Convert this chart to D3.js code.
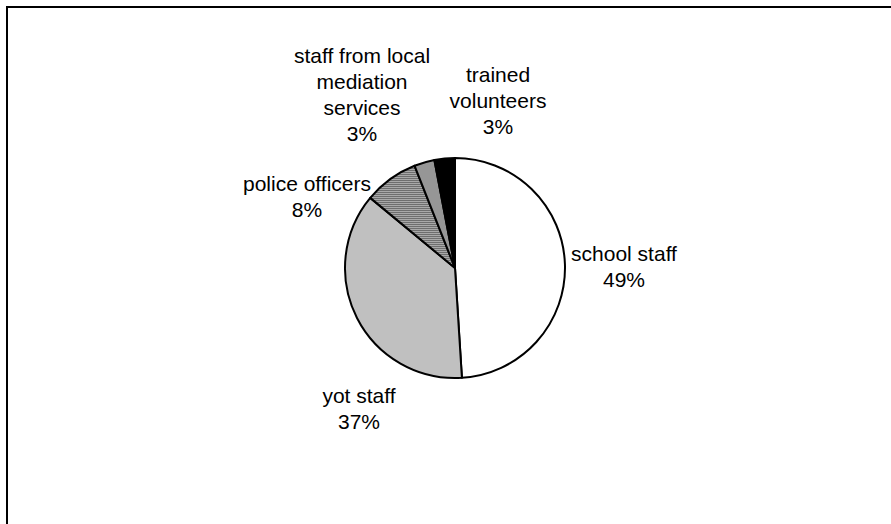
<!DOCTYPE html>
<html>
<head>
<meta charset="utf-8">
<script src="https://cdn.jsdelivr.net/npm/d3@7"></script>
<style>
  html, body { margin: 0; padding: 0; background: #fff; }
  svg { display: block; }
  text { font-family: "Liberation Sans", Arial, sans-serif; font-size: 21px; fill: #000; }
</style>
</head>
<body>
<svg id="chart" width="891" height="524"></svg>
<script>
// Who delivers the sessions: share of each staff group
const categories = ["school staff", "yot staff", "police officers", "staff from local mediation services", "trained volunteers"];
const shares = [49, 37, 8, 3, 3];
const labelLines = [
  ["school staff"],
  ["yot staff"],
  ["police officers"],
  ["staff from local", "mediation", "services"],
  ["trained", "volunteers"]
];

const W = 891, H = 524;
const cx = 455, cy = 268, R = 110;

const svg = d3.select("#chart");

// Fills: plain white, light grey, horizontal hatching, mid grey, black
const defs = svg.append("defs");
const hatch = defs.append("pattern")
  .attr("id", "hatch")
  .attr("patternUnits", "userSpaceOnUse")
  .attr("width", 4).attr("height", 2);
hatch.append("rect").attr("width", 4).attr("height", 2).attr("fill", "#a8a8a8");
hatch.append("rect").attr("width", 4).attr("height", 1).attr("fill", "#6e6e6e");

const fills = d3.scaleOrdinal()
  .domain(categories)
  .range(["#ffffff", "#c0c0c0", "url(#hatch)", "#969696", "#000000"]);

// Outer frame (runs off the right and bottom of the view)
svg.append("rect")
  .attr("x", 7).attr("y", 7)
  .attr("width", 900).attr("height", 540)
  .attr("fill", "none")
  .attr("stroke", "#000")
  .attr("stroke-width", 2);

const data = categories.map((c, i) => ({ name: c, value: shares[i], lines: labelLines[i] }));

const pie = d3.pie().value(d => d.value).sort(null);
const arc = d3.arc().innerRadius(0).outerRadius(R);
const arcs = pie(data);

const g = svg.append("g").attr("transform", `translate(${cx},${cy})`);

g.selectAll("path.slice")
  .data(arcs)
  .join("path")
  .attr("class", "slice")
  .attr("d", arc)
  .attr("fill", d => fills(d.data.name))
  .attr("stroke", "#000")
  .attr("stroke-width", 2)
  .attr("stroke-linejoin", "round");

// Label anchor (centre x, baseline of first line) for each slice
const labelPos = [
  [624, 261],
  [359, 403],
  [307, 191],
  [362, 63],
  [498, 82]
];
const lineGap = 26;

const labels = svg.append("g");
arcs.forEach((a, i) => {
  const lines = a.data.lines.concat([d3.format(".0f")(a.data.value) + "%"]);
  const t = labels.append("text")
    .attr("text-anchor", "middle")
    .attr("x", labelPos[i][0])
    .attr("y", labelPos[i][1]);
  lines.forEach((ln, k) => {
    t.append("tspan")
      .attr("x", labelPos[i][0])
      .attr("y", labelPos[i][1] + k * lineGap)
      .text(ln);
  });
});
</script>
</body>
</html>
